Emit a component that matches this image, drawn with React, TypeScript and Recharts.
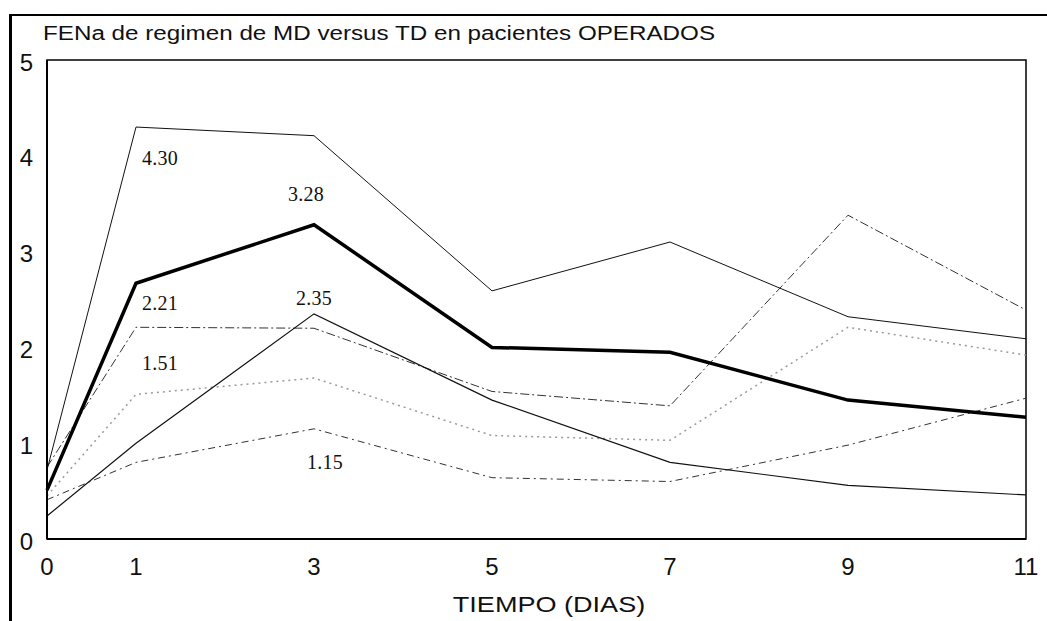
import { LineChart, Line, XAxis, YAxis, ReferenceArea } from 'recharts';

const dias = [0, 1, 3, 5, 7, 9, 11];
const yTicks = [0, 1, 2, 3, 4, 5];

// series
const serieA = [0.72, 4.3, 4.21, 2.59, 3.1, 2.32, 2.09];
const serieB = [0.51, 2.67, 3.28, 2.0, 1.95, 1.45, 1.27];
const serieC = [0.24, 1.0, 2.35, 1.45, 0.8, 0.56, 0.46];
const serieD = [0.75, 2.21, 2.2, 1.54, 1.39, 3.38, 2.39];
const serieE = [0.45, 1.51, 1.68, 1.08, 1.03, 2.21, 1.92];
const serieF = [0.41, 0.8, 1.15, 0.64, 0.6, 0.98, 1.47];

const data = dias.map((d, i) => ({
  dia: d,
  a: serieA[i],
  b: serieB[i],
  c: serieC[i],
  d: serieD[i],
  e: serieE[i],
  f: serieF[i],
}));

// which point gets its value written, and where
const pointLabel = (idx: number, dx: number, dy: number) => (props: any) => {
  const { x, y, value, index } = props;
  if (index !== idx) return <g />;
  return (
    <text
      x={x + dx}
      y={y + dy}
      textAnchor="middle"
      dominantBaseline="central"
      fontFamily="'Liberation Serif', 'Times New Roman', serif"
      fontSize={20}
      letterSpacing={0.3}
      fill="#111"
    >
      {Number(value).toFixed(2)}
    </text>
  );
};

const sans = "'Liberation Sans', Arial, sans-serif";

export default function App() {
  return (
    <div style={{ position: 'fixed', left: 0, top: 0, width: 1047, height: 621, background: '#fff', fontFamily: sans }}>
      <div
        style={{
          position: 'absolute',
          left: 9,
          top: 14,
          right: 0,
          bottom: 0,
          borderTop: '2px solid #000',
          borderLeft: '3px solid #000',
        }}
      />
      <div
        style={{
          position: 'absolute',
          left: 43,
          top: 23,
          fontSize: 20,
          lineHeight: '20px',
          color: '#111',
          whiteSpace: 'nowrap',
          transform: 'scaleX(1.21)',
          transformOrigin: 'left center',
        }}
      >
        FENa de regimen de MD versus TD en pacientes OPERADOS
      </div>
      <div style={{ position: 'absolute', left: 0, top: 0 }}>
        <LineChart width={1047} height={621} data={data} margin={{ top: 60, right: 21, bottom: 42, left: 7 }}>
          <XAxis
            dataKey="dia"
            type="number"
            domain={[0, 11]}
            ticks={dias}
            interval={0}
            tickLine={false}
            tickMargin={13}
            height={40}
            axisLine={{ stroke: '#000', strokeWidth: 2 }}
            tick={{ fill: '#111', fontSize: 24, fontFamily: sans }}
          />
          <YAxis
            type="number"
            domain={[0, 5]}
            ticks={yTicks}
            interval={0}
            width={40}
            tickLine={false}
            tickMargin={8}
            axisLine={{ stroke: '#000', strokeWidth: 2 }}
            tick={{ fill: '#111', fontSize: 24, fontFamily: sans, dy: 2 }}
          />
          <ReferenceArea x1={0} x2={11} y1={0} y2={5} fill="none" stroke="#000" strokeWidth={1.5} ifOverflow="visible" />
          <Line dataKey="e" stroke="#9a9a9a" strokeWidth={1.5} strokeDasharray="2 4" dot={false} isAnimationActive={false} label={pointLabel(1, 24, -31)} />
          <Line dataKey="f" stroke="#333" strokeWidth={1} strokeDasharray="7 4 2 4" dot={false} isAnimationActive={false} label={pointLabel(2, 11, 33)} />
          <Line dataKey="d" stroke="#333" strokeWidth={1} strokeDasharray="9 3 2 3" dot={false} isAnimationActive={false} label={pointLabel(1, 24, -24)} />
          <Line dataKey="c" stroke="#111" strokeWidth={1.2} dot={false} isAnimationActive={false} label={pointLabel(2, 0, -16)} />
          <Line dataKey="a" stroke="#111" strokeWidth={1} dot={false} isAnimationActive={false} label={pointLabel(1, 24, 31)} />
          <Line dataKey="b" stroke="#000" strokeWidth={3.5} dot={false} isAnimationActive={false} label={pointLabel(2, -8, -31)} />
        </LineChart>
      </div>
      <div
        style={{
          position: 'absolute',
          left: 549,
          top: 594,
          fontSize: 22,
          lineHeight: '22px',
          color: '#111',
          whiteSpace: 'nowrap',
          transform: 'translateX(-50%) scaleX(1.23)',
        }}
      >
        TIEMPO (DIAS)
      </div>
    </div>
  );
}
